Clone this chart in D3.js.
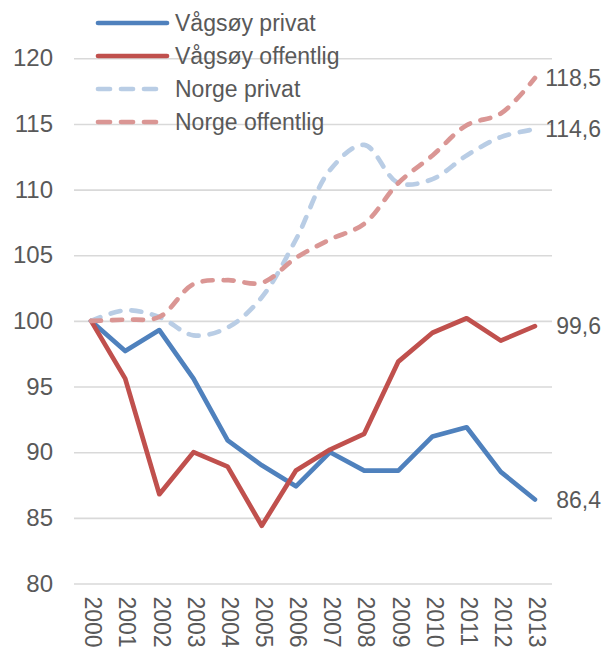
<!DOCTYPE html>
<html>
<head>
<meta charset="utf-8">
<script src="https://cdn.jsdelivr.net/npm/d3@7"></script>
<style>
  html, body { margin: 0; padding: 0; background: #fff; }
  svg { display: block; font-family: "Liberation Sans", Arial, sans-serif; }
</style>
</head>
<body>
<svg id="chart" width="606" height="650"></svg>
<script>
const years = ["2000","2001","2002","2003","2004","2005","2006","2007","2008","2009","2010","2011","2012","2013"];
const vagsoyPrivat     = [100, 97.7, 99.3, 95.6, 90.9, 89.0, 87.4, 90.0, 88.6, 88.6, 91.2, 91.9, 88.5, 86.4];
const vagsoyOffentlig  = [100, 95.6, 86.8, 90.0, 88.9, 84.4, 88.6, 90.2, 91.4, 96.9, 99.1, 100.2, 98.5, 99.6];
const norgePrivat      = [100, 100.8, 100.3, 98.9, 99.5, 101.8, 106.2, 111.5, 113.4, 110.5, 110.8, 112.6, 114.0, 114.6];
const norgeOffentlig   = [100, 100.1, 100.3, 102.8, 103.1, 102.9, 104.8, 106.2, 107.4, 110.5, 112.6, 114.9, 115.8, 118.5];
const seriesNames = ["Vågsøy privat", "Vågsøy offentlig", "Norge privat", "Norge offentlig"];
const yTicks = [80, 85, 90, 95, 100, 105, 110, 115, 120];

const series = [
  { name: seriesNames[0], values: vagsoyPrivat,    color: "#4F81BD", dashed: false },
  { name: seriesNames[1], values: vagsoyOffentlig, color: "#C0504D", dashed: false },
  { name: seriesNames[2], values: norgePrivat,     color: "#B9CDE5", dashed: true },
  { name: seriesNames[3], values: norgeOffentlig,  color: "#DA9694", dashed: true }
];

const svg = d3.select("#chart");
const textColor = "#595959";
const plotLeft = 74, plotRight = 552, plotTop = 58.3, plotBottom = 583.5;

const x = d3.scaleBand().domain(years).range([plotLeft, plotRight]).padding(0);
const xc = d => x(d) + x.bandwidth() / 2;
const y = d3.scaleLinear().domain([80, 120]).range([plotBottom, plotTop]);

// gridlines
const grid = svg.append("g").attr("transform", `translate(${plotLeft},0)`)
  .call(d3.axisLeft(y).tickValues(yTicks).tickSize(-(plotRight - plotLeft)).tickFormat(""));
grid.select(".domain").remove();
grid.selectAll("line").attr("stroke", "#D9D9D9").attr("stroke-width", 1.6);

// y axis labels
const yAxis = svg.append("g").attr("transform", `translate(${plotLeft},0)`)
  .call(d3.axisLeft(y).tickValues(yTicks).tickSize(0).tickPadding(21));
yAxis.select(".domain").remove();
yAxis.selectAll("text").attr("fill", textColor).style("font-size", "24px")
  .style("font-family", "'Liberation Sans', Arial, sans-serif");

// x axis labels
const xAxis = svg.append("g").attr("transform", `translate(0,${plotBottom})`)
  .call(d3.axisBottom(x).tickSize(0).tickPadding(0));
xAxis.select(".domain").remove();
xAxis.selectAll("text")
  .attr("fill", textColor).style("font-size", "23px")
  .style("font-family", "'Liberation Sans', Arial, sans-serif")
  .attr("text-anchor", "start")
  .attr("transform", "rotate(90)")
  .attr("x", 13).attr("y", 0).attr("dy", "0.25em");

// lines
const lineStraight = d3.line().x((d, i) => xc(years[i])).y(d => y(d));
const lineSmooth = d3.line().x((d, i) => xc(years[i])).y(d => y(d)).curve(d3.curveCatmullRom.alpha(0.5));

series.forEach(s => {
  svg.append("path")
    .datum(s.values)
    .attr("d", s.dashed ? lineSmooth : lineStraight)
    .attr("fill", "none")
    .attr("stroke", s.color)
    .attr("stroke-width", 4.7)
    .attr("stroke-linejoin", "round")
    .attr("stroke-linecap", "round")
    .attr("stroke-dasharray", s.dashed ? "10,11" : null);
});

// end labels
const fmt = v => d3.format(".1f")(v).replace(".", ",");
series.forEach(s => {
  const last = s.values[s.values.length - 1];
  const t = svg.append("text")
    .attr("x", xc(years[years.length - 1]) + 22)
    .attr("y", y(last))
    .attr("dy", "0.35em")
    .attr("fill", textColor)
    .style("font-size", "23px")
    .text(fmt(last));
  const w = t.node().getComputedTextLength();
  const maxRight = 601;
  if (+t.attr("x") + w > maxRight) t.attr("x", maxRight - w);
});

// legend
const legend = svg.append("g");
series.forEach((s, i) => {
  const ly = 23 + i * 33;
  legend.append("line")
    .attr("x1", 98).attr("x2", 167).attr("y1", ly).attr("y2", ly)
    .attr("stroke", s.color).attr("stroke-width", 4.7)
    .attr("stroke-linecap", "round")
    .attr("stroke-dasharray", s.dashed ? "12,11" : null);
  legend.append("text")
    .attr("x", 175).attr("y", ly).attr("dy", "0.35em")
    .attr("fill", textColor).style("font-size", "23px")
    .text(s.name);
});
</script>
</body>
</html>
